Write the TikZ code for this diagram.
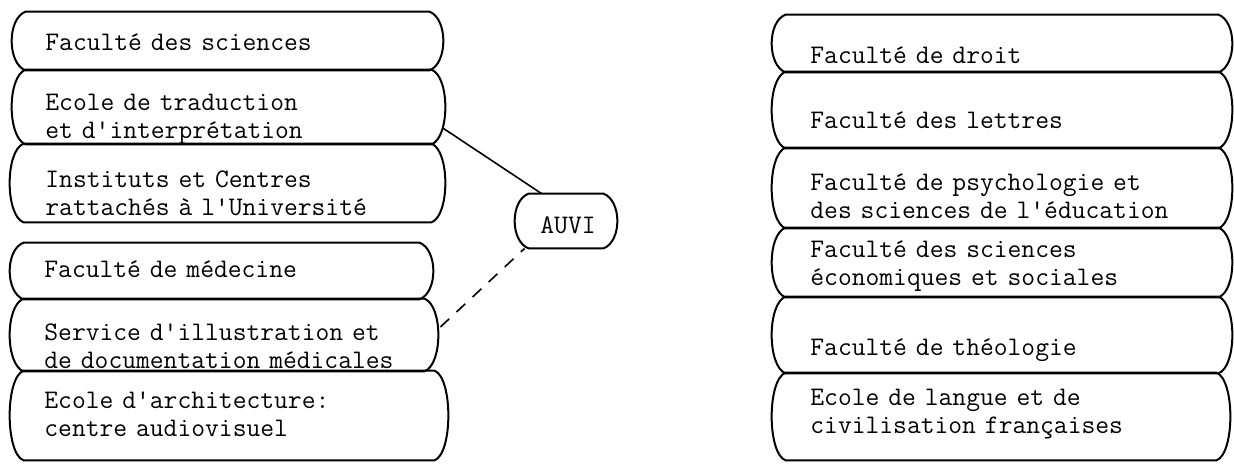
\documentclass[tikz,border=0pt]{standalone}
\usepackage{fontspec}
\usetikzlibrary{fit}
\tikzset{
  boxnode/.style={inner sep=0pt, draw=none, fit={#1}},
  boxline/.style={line width=1pt, line join=round},
  lbl/.style={anchor=base west, inner sep=0pt, text width=230pt, align=left,
    font=\ttfamily\fontsize{13.4pt}{14.25pt}\selectfont},
  link/.style={line width=0.8pt},
  dlink/.style={line width=0.8pt, dash pattern=on 6pt off 5pt}
}
\newcommand\drawbox[1]{%
  \draw[boxline] ([xshift=7pt]#1.north west) -- ([xshift=-7pt]#1.north east)
    .. controls ([xshift=2.3pt,yshift=-3.5pt]#1.north east) and ([xshift=2.3pt,yshift=3.5pt]#1.south east) ..
    ([xshift=-7pt]#1.south east) -- ([xshift=7pt]#1.south west)
    .. controls ([xshift=-2.3pt,yshift=3.5pt]#1.south west) and ([xshift=-2.3pt,yshift=-3.5pt]#1.north west) ..
    cycle;}
\begin{document}
\begin{tikzpicture}[x=0.5pt,y=-0.5pt]
\useasboundingbox (0,0) rectangle (1234,463);
% left stack
\node[boxnode={(12,12) (443,70)}] (L1) {};
\node[boxnode={(12,70) (445,144)}] (L2) {};
\node[boxnode={(10,144) (445,222)}] (L3) {};
\node[boxnode={(10,243) (433,299)}] (L4) {};
\node[boxnode={(10,299) (438,371)}] (L5) {};
\node[boxnode={(10,371) (448,460)}] (L6) {};
% right stack
\node[boxnode={(772,15) (1232,72)}] (R1) {};
\node[boxnode={(772,72) (1232,148)}] (R2) {};
\node[boxnode={(772,148) (1232,228)}] (R3) {};
\node[boxnode={(772,228) (1232,297)}] (R4) {};
\node[boxnode={(772,297) (1232,373)}] (R5) {};
\node[boxnode={(772,373) (1230,460)}] (R6) {};
% AUVI
\node[boxnode={(515,194) (617,248)}] (A) {};
\foreach \n in {L1,L2,L3,L4,L5,L6,R1,R2,R3,R4,R5,R6,A} {\drawbox{\n}}
% texts
\node[lbl] (tL1) at (45,50) {Faculté des sciences};
\node[lbl] (tL2) at (45,110) {Ecole de traduction\\et d'interprétation};
\node[lbl] (tL3) at (45,187) {Instituts et Centres\\rattachés à l'Université};
\node[lbl] (tL4) at (44,277) {Faculté de médecine};
\node[lbl] (tL5) at (44,340) {Service d'illustration et\\de documentation médicales};
\node[lbl] (tL6) at (44,408) {Ecole d'architecture:\\centre audiovisuel};
\node[lbl] (tR1) at (810,63) {Faculté de droit};
\node[lbl] (tR2) at (810,128) {Faculté des lettres};
\node[lbl] (tR3) at (810,190) {Faculté de psychologie et\\des sciences de l'éducation};
\node[lbl] (tR4) at (810,257) {Faculté des sciences\\économiques et sociales};
\node[lbl] (tR5) at (810,355) {Faculté de théologie};
\node[lbl] (tR6) at (810,405) {Ecole de langue et de\\civilisation françaises};
\node[lbl, text width=40pt] (tA) at (540,233) {AUVI};
% connectors
\draw[link] ([xshift=-1pt,yshift=8pt]L2.south east) -- ([xshift=13.5pt]A.north west);
\draw[dlink] ([xshift=1pt,yshift=4pt]L5.east) -- ([xshift=5pt]A.south west);
\end{tikzpicture}
\end{document}
